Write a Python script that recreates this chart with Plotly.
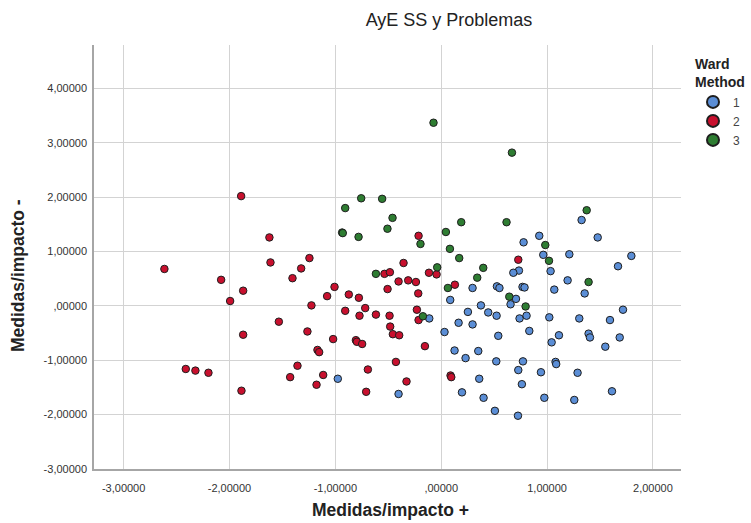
import plotly.graph_objects as go

# ---- data ----
x_tick_vals = [-3, -2, -1, 0, 1, 2]
x_tick_text = ["-3,00000", "-2,00000", "-1,00000", ",00000", "1,00000", "2,00000"]
y_tick_vals = [-3, -2, -1, 0, 1, 2, 3, 4]
y_tick_text = ["-3,00000", "-2,00000", "-1,00000", ",00000", "1,00000", "2,00000", "3,00000", "4,00000"]

cluster_names = ["1", "2", "3"]

c1_x = [-0.113, 0.296, 0.085, 0.375, 0.526, 0.55, 0.252, 0.444, 0.523, 0.164, 0.296, 0.031,
        1.326, 0.926, 1.478, 0.778, 0.964, 1.210, 1.796, 1.670, 0.734, 0.681, 1.033, 1.194,
        0.768, 0.787, 1.068, 1.355, 0.706, 0.655, 0.740, 0.806, 1.021, 1.304, 1.594, 1.717,
        0.539, 0.832, 1.112, 1.043, 1.392, 1.405, 1.686, 1.550, 0.520, 0.772, 1.080, 1.086,
        0.728, 0.942, 1.288, 0.762, 0.974, 1.257, 1.613, 0.507, 0.725, -0.977, -0.403, 0.126,
        0.230, 0.350, 0.359, 0.196, 0.400]
c1_y = [-0.23, 0.33, 0.11, 0.01, 0.36, 0.33, -0.11, -0.12, -0.18, -0.31, -0.34, -0.48,
        1.58, 1.29, 1.26, 1.17, 0.94, 0.95, 0.92, 0.73, 0.65, 0.61, 0.64, 0.47,
        0.35, 0.34, 0.30, 0.23, 0.13, 0.03, -0.23, -0.18, -0.21, -0.23, -0.26, -0.07,
        -0.55, -0.46, -0.54, -0.67, -0.51, -0.58, -0.58, -0.75, -1.02, -1.02, -1.03, -1.07,
        -1.18, -1.22, -1.23, -1.44, -1.69, -1.73, -1.57, -1.93, -2.02, -1.34, -1.62, -0.82,
        -0.96, -0.83, -1.34, -1.59, -1.69]

c2_x = [-1.890, -1.623, -1.613, -2.615, -2.079, -1.871, -1.994, -1.405, -1.534, -1.871,
        -2.413, -2.322, -2.199, -1.887, -1.427, -1.358, -0.214, -1.245, -1.323, -0.356,
        -0.536, -0.485, -0.116, -0.044, -0.403, -0.312, -0.239, -0.507, -0.217, -1.008,
        -1.078, -0.873, -0.778, -1.226, -0.718, -0.907, -0.772, -0.617, -0.488, -0.230,
        -0.214, -0.482, 0.129, -1.264, -1.021, -0.806, -0.797, -0.747, -0.457, -0.397,
        -0.154, -1.169, -1.153, -1.115, -1.178, -0.693, -0.428, -0.328, -0.709, 0.088,
        0.095, 0.728]
c2_y = [2.02, 1.26, 0.80, 0.68, 0.48, 0.28, 0.09, 0.51, -0.29, -0.53,
        -1.16, -1.19, -1.23, -1.56, -1.31, -1.10, 1.29, 0.88, 0.69, 0.79,
        0.59, 0.62, 0.61, 0.58, 0.45, 0.47, 0.44, 0.31, 0.23, 0.35,
        0.18, 0.21, 0.15, 0.01, -0.04, -0.09, -0.18, -0.16, -0.18, -0.07,
        -0.26, -0.38, 0.39, -0.47, -0.61, -0.63, -0.66, -0.70, -0.52, -0.54,
        -0.74, -0.81, -0.85, -1.27, -1.45, -1.17, -1.03, -1.39, -1.58, -1.28,
        -1.31, 0.85]

c3_x = [-0.073, 0.668, -0.756, -0.558, -0.907, -0.460, -0.508, -0.936, -0.930, -0.781,
        -0.196, 0.044, 0.189, 0.082, 0.170, -0.038, 0.397, 0.340, 0.063, -0.617,
        -0.173, 1.374, 0.617, 0.983, 1.018, 1.392, 0.643, 0.797]
c3_y = [3.37, 2.82, 1.98, 1.97, 1.80, 1.62, 1.42, 1.35, 1.34, 1.27,
        1.14, 1.36, 1.54, 1.05, 0.88, 0.71, 0.70, 0.52, 0.33, 0.59,
        -0.19, 1.76, 1.54, 1.12, 0.83, 0.44, 0.17, -0.01]

colors = ["#5b8ed6", "#c8102e", "#2e7d32"]
FONT = "Liberation Sans, Arial, sans-serif"

fig = go.Figure()
for name, xs, ys, col in zip(cluster_names, [c1_x, c2_x, c3_x], [c1_y, c2_y, c3_y], colors):
    fig.add_trace(go.Scatter(
        x=xs, y=ys, mode="markers", name=name,
        marker=dict(size=7.5, color=col, line=dict(color="#1e1e1e", width=1)),
    ))

axis_common = dict(
    showgrid=True, gridcolor="#d3d3d3", gridwidth=1,
    showline=True, linecolor="#a6a6a6", linewidth=1.5,
    zeroline=False, ticks="", tickfont=dict(family=FONT, size=11, color="#333333"),
)

fig.update_layout(
    width=751, height=523,
    margin=dict(l=94, r=70, t=45, b=54),
    paper_bgcolor="white", plot_bgcolor="white",
    font=dict(family=FONT, color="#222222"),
    title=dict(text="AyE SS y Problemas", x=449 / 751, xanchor="center",
               y=1 - 20 / 523, yanchor="middle", yref="container",
               font=dict(family=FONT, size=18, color="#222222")),
    xaxis=dict(range=[-3.28, 2.265], tickvals=x_tick_vals, ticktext=x_tick_text,
               ticklabelstandoff=8, **axis_common),
    yaxis=dict(range=[-3, 4.80], tickvals=y_tick_vals, ticktext=y_tick_text,
               ticklabelstandoff=3, **axis_common),
    legend=dict(
        xref="container", yref="container",
        x=693 / 751, xanchor="left", y=1 - 51 / 523, yanchor="top",
        title=dict(text="<b>Ward<br>Method</b>", side="top center",
                   font=dict(family=FONT, size=14, color="#222222")),
        font=dict(family=FONT, size=12, color="#444444"),
        bgcolor="rgba(0,0,0,0)", itemwidth=30, tracegroupgap=0,
        itemsizing="constant",
    ),
    annotations=[
        dict(text="<b>Medidas/impacto +</b>", xref="paper", yref="paper",
             x=(391 - 94) / 587, y=(469 - 510) / 424, xanchor="center", yanchor="middle",
             showarrow=False, font=dict(family=FONT, size=17.5, color="#222222")),
        dict(text="<b>Medidas/impacto -</b>", xref="paper", yref="paper",
             x=(18 - 94) / 587, y=(469 - 276) / 424, xanchor="center", yanchor="middle",
             textangle=-90, showarrow=False, font=dict(family=FONT, size=17.5, color="#222222")),
    ],
)

fig.write_html("out.html", config={"displayModeBar": False},
               post_script="document.body.style.margin='0';")
